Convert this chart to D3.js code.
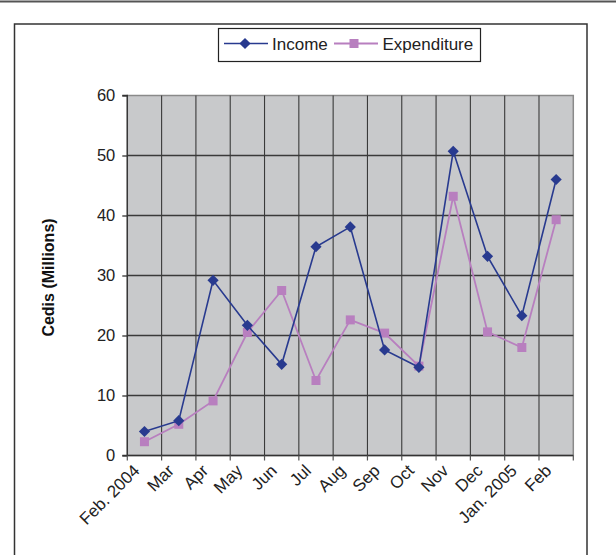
<!DOCTYPE html>
<html><head><meta charset="utf-8">
<script src="https://cdn.jsdelivr.net/npm/d3@7"></script>
<style>body{margin:0;background:#fff;}svg{display:block;font-family:"Liberation Sans",Arial,sans-serif;}</style>
</head><body>
<svg id="c" width="616" height="555"></svg>
<script>
const categories = ["Feb. 2004","Mar","Apr","May","Jun","Jul","Aug","Sep","Oct","Nov","Dec","Jan. 2005","Feb"];
const income = [4.0,5.8,29.2,21.7,15.2,34.8,38.1,17.6,14.7,50.7,33.2,23.3,46.0];
const expenditure = [2.3,5.2,9.1,20.5,27.5,12.5,22.6,20.4,14.9,43.2,20.6,18.0,39.3];
const yTicks = [0,10,20,30,40,50,60];
const seriesNames = ["Income","Expenditure"];

const svg = d3.select("#c");
const L = 127.3, R = 573.3, T = 95.5, B = 455.5;
const x = d3.scaleBand().domain(categories).range([L,R]);
const y = d3.scaleLinear().domain([0,60]).range([B,T]);

// top rule and frame
svg.append("line").attr("x1",0).attr("x2",616).attr("y1",1.5).attr("y2",1.5).attr("stroke","#555").attr("stroke-width",2);
svg.append("path").attr("d",`M14.5,556 V24 H587 V556`).attr("fill","none").attr("stroke","#333").attr("stroke-width",1.5);

// plot background
svg.append("rect").attr("x",L).attr("y",T).attr("width",R-L).attr("height",B-T).attr("fill","#c8c9cb").attr("stroke","#8a8a8a").attr("stroke-width",1.5);

// horizontal grid
svg.append("g").selectAll("line").data(yTicks.slice(1,-1)).join("line")
  .attr("x1",L).attr("x2",R).attr("y1",d=>y(d)).attr("y2",d=>y(d))
  .attr("stroke","#3a3a3a").attr("stroke-width",1.3);
// vertical grid at category boundaries
const bounds = categories.slice(1).map(c=>x(c));
svg.append("g").selectAll("line").data(bounds).join("line")
  .attr("x1",d=>d).attr("x2",d=>d).attr("y1",T).attr("y2",B)
  .attr("stroke","#3a3a3a").attr("stroke-width",1.1);

// y axis
const yAxis = d3.axisLeft(y).tickValues(yTicks).tickSize(5).tickPadding(7);
const gy = svg.append("g").attr("transform",`translate(${L},0)`).call(yAxis);
gy.select(".domain").attr("stroke","#333").attr("stroke-width",1.3).attr("d",`M-5,${B}H0V${T}H-5`);
gy.selectAll(".tick line").attr("stroke","#333").attr("stroke-width",1.3);
gy.selectAll(".tick text").attr("font-size","16.5px").attr("fill","#222").attr("font-family","Liberation Sans, Arial, sans-serif");

// x axis line and tick marks at boundaries
svg.append("line").attr("x1",L).attr("x2",R).attr("y1",B).attr("y2",B).attr("stroke","#333").attr("stroke-width",1.3);
const allBounds = categories.map(c=>x(c)).concat([R]);
svg.append("g").selectAll("line").data(allBounds).join("line")
  .attr("x1",d=>d).attr("x2",d=>d).attr("y1",B).attr("y2",B+5)
  .attr("stroke","#555").attr("stroke-width",1.2);
// x labels
svg.append("g").selectAll("text").data(categories).join("text")
  .attr("transform",d=>`translate(${x(d)+x.bandwidth()/2-8},${B+12}) rotate(-45)`)
  .attr("text-anchor","end").attr("dy","0.35em")
  .attr("font-size","17px").attr("fill","#222").text(d=>d);

// y title
svg.append("text").attr("transform",`translate(54,${(T+B)/2+2}) rotate(-90)`)
  .attr("text-anchor","middle").attr("font-size","16px").attr("font-weight","bold").attr("fill","#111")
  .text("Cedis (Millions)");

const cx = d=>x(d)+x.bandwidth()/2;
const colInc = "#283a8f", colExp = "#b87fbf";
const line = d3.line().x((d,i)=>cx(categories[i])).y(d=>y(d));

svg.append("path").datum(expenditure).attr("d",line).attr("fill","none").attr("stroke",colExp).attr("stroke-width",1.8);
svg.append("g").selectAll("rect").data(expenditure).join("rect")
  .attr("x",(d,i)=>cx(categories[i])-4.5).attr("y",d=>y(d)-4.5).attr("width",9).attr("height",9).attr("fill",colExp);

svg.append("path").datum(income).attr("d",line).attr("fill","none").attr("stroke",colInc).attr("stroke-width",1.6);
const diamond = d3.symbol().type(d3.symbolDiamond2).size(80);
svg.append("g").selectAll("path").data(income).join("path")
  .attr("d",diamond).attr("transform",(d,i)=>`translate(${cx(categories[i])},${y(d)})`).attr("fill",colInc);

// legend
const lg = svg.append("g");
lg.append("rect").attr("x",218.5).attr("y",28.5).attr("width",262).attr("height",33).attr("fill","#fff").attr("stroke","#222").attr("stroke-width",1.2);
const ly = 43.5;
lg.append("line").attr("x1",224).attr("x2",268).attr("y1",ly).attr("y2",ly).attr("stroke",colInc).attr("stroke-width",1.6);
lg.append("path").attr("d",diamond).attr("transform",`translate(245,${ly})`).attr("fill",colInc);
lg.append("text").attr("x",272).attr("y",ly).attr("dy","0.36em").attr("font-size","17px").attr("fill","#222").text(seriesNames[0]);
lg.append("line").attr("x1",334).attr("x2",378).attr("y1",ly).attr("y2",ly).attr("stroke",colExp).attr("stroke-width",1.8);
lg.append("rect").attr("x",354-4.5).attr("y",ly-4.5).attr("width",9).attr("height",9).attr("fill",colExp);
lg.append("text").attr("x",382.5).attr("y",ly).attr("dy","0.36em").attr("font-size","17px").attr("fill","#222").text(seriesNames[1]);
</script>
</body></html>
